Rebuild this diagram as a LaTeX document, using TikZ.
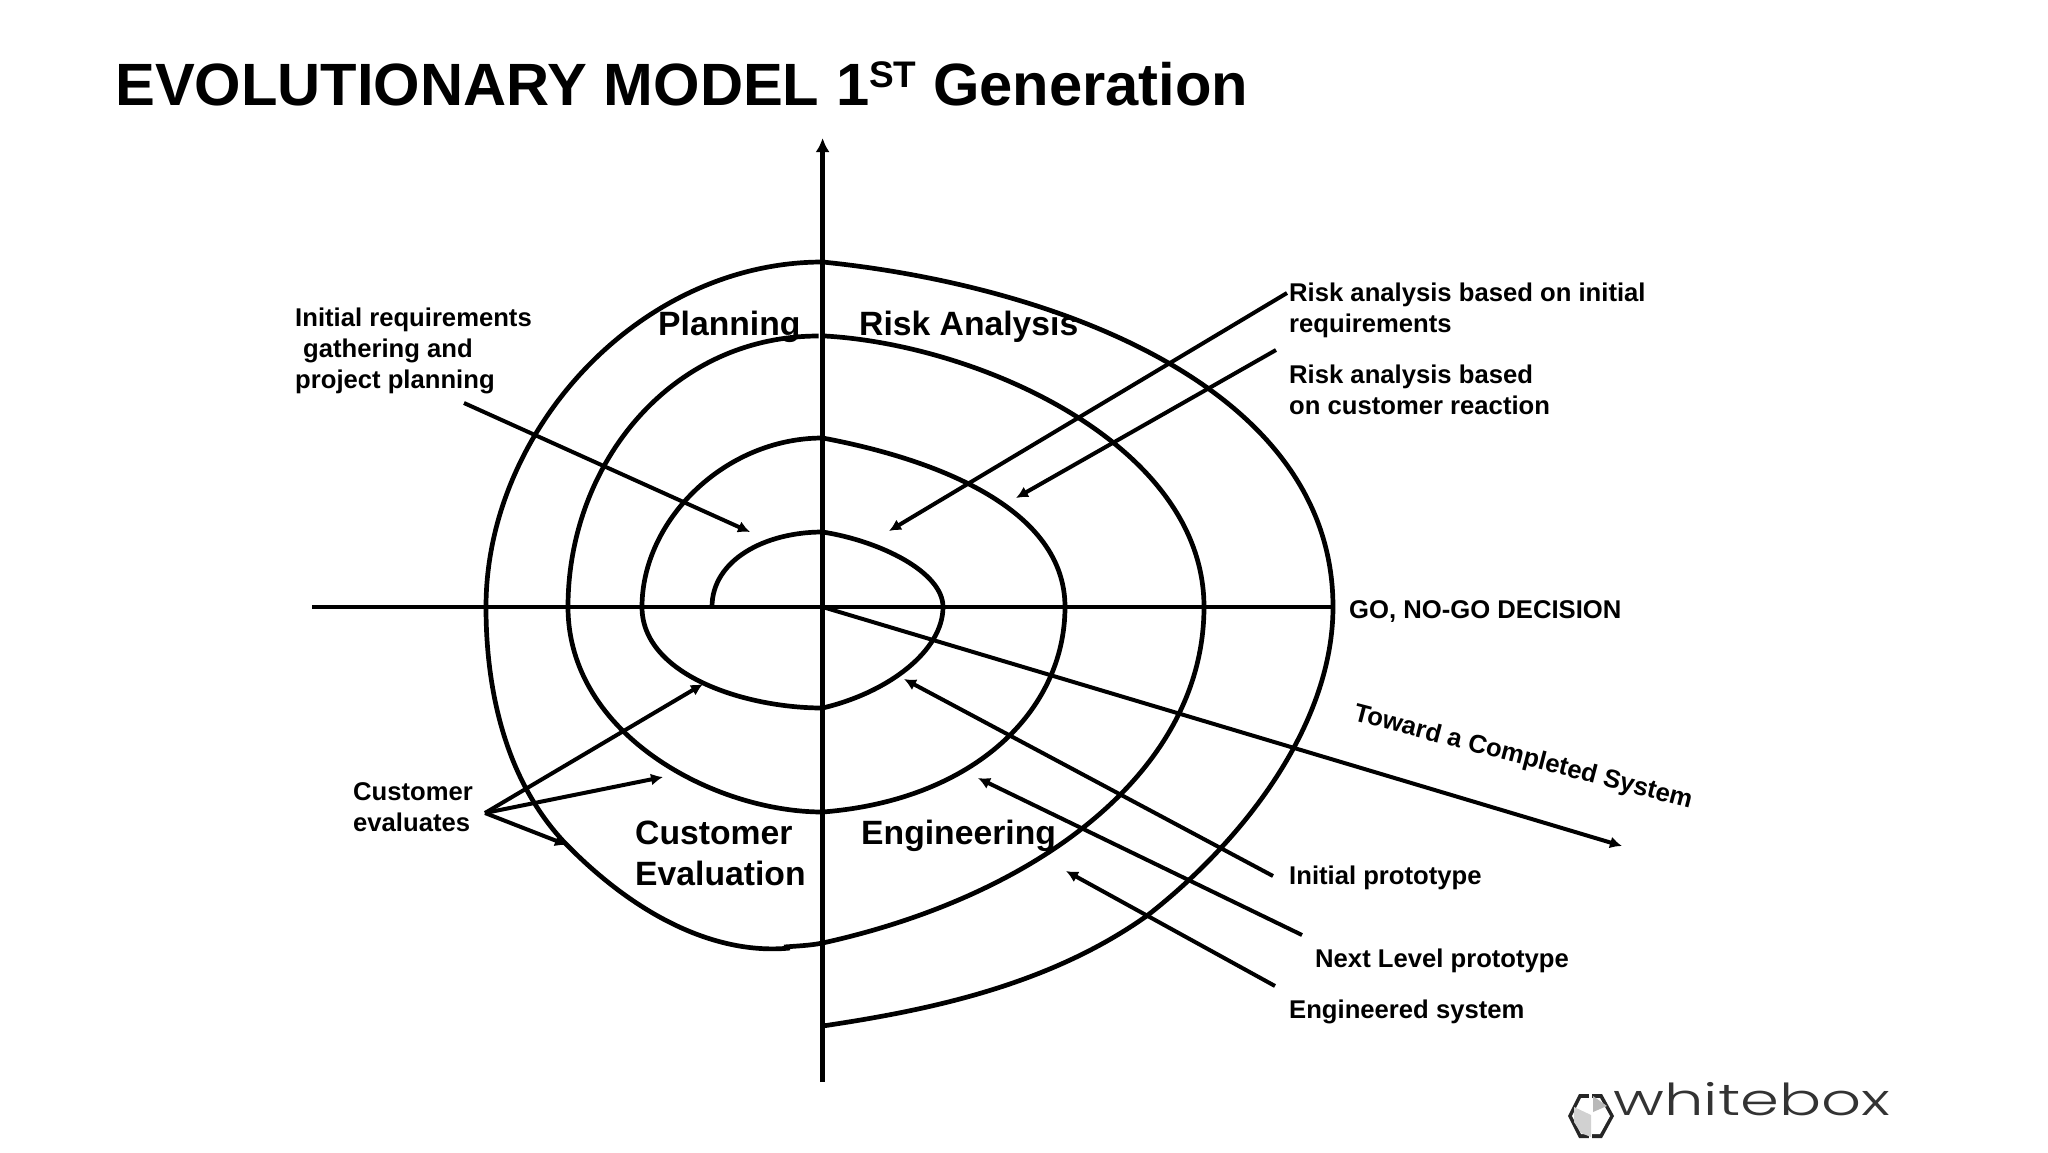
\documentclass[tikz,border=0pt]{standalone}
\usepackage{fontspec}
\setmainfont{Liberation Sans}
\newfontfamily\logofont[UprightFont=* Light]{Poppins}
\usetikzlibrary{arrows.meta}
\newcommand{\fs}[2]{\fontsize{#1}{#2}\selectfont\bfseries}
\tikzset{
  x=1pt,y=-1pt,
  axisline/.style={line width=4.4pt,draw=black},
  spiral/.style={line width=4.7pt,draw=black,line join=round},
  pointer/.style={line width=4pt,draw=black,-{Latex[length=12pt,width=12pt]}},
  small/.style={inner sep=0pt,font=\fs{25.65}{31},align=left},
  quad/.style={inner sep=0pt,font=\fs{33.7}{41},align=left},
}
\begin{document}
\begin{tikzpicture}
\useasboundingbox (0,0) rectangle (2048,1152);
\fill[white] (0,0) rectangle (2048,1152);
\node[inner sep=0pt,anchor=base west,font=\fs{59.7}{70}] (title) at (115,105) {EVOLUTIONARY MODEL 1\raisebox{0.3em}{\fontsize{37}{40}\selectfont ST} Generation};
% axes
\coordinate (vb) at (822.6,1082); \coordinate (vt) at (822.6,138);
\coordinate (hl) at (312,607); \coordinate (hr) at (1335,607);
\coordinate (ctr) at (822.6,607); \coordinate (rad) at (1622,846);
\draw[axisline,-{Latex[length=14pt,width=14pt]}] (vb) -- (vt);
\draw[axisline] (hl) -- (hr);
\draw[pointer] (ctr) -- (rad);
% spiral
\draw[spiral] (712,607) .. controls (712,560) and (765,532) .. (822.6,532)
  .. controls (880,541) and (943,572) .. (943,607)
  .. controls (943,650) and (890,692) .. (822.6,708)
  .. controls (745,708) and (642,675) .. (642,607)
  .. controls (642,520) and (725,438) .. (822.6,438)
  .. controls (940,460) and (1065,510) .. (1065,607)
  .. controls (1065,710) and (975,800) .. (822.6,812)
  .. controls (715,812) and (568,735) .. (568,607)
  .. controls (568,465) and (670,336) .. (818.6,336);
\draw[spiral] (825,336) .. controls (980,345) and (1204,445) .. (1204,607)
  .. controls (1204,770) and (1040,895) .. (822.6,943)
  .. controls (810,945.5) and (797,946) .. (784,947);
\draw[spiral] (790,948) .. controls (720,955) and (640,920) .. (565,843)
  .. controls (510,785) and (486,700) .. (486,607)
  .. controls (486,430) and (640,262) .. (822.6,262)
  .. controls (1050,285) and (1333,385) .. (1333,607)
  .. controls (1333,720) and (1250,835) .. (1148,915)
  .. controls (1050,985) and (930,1010) .. (822.6,1026);
% quadrant labels
\node[quad,anchor=base west] (planning) at (658,335) {Planning};
\node[quad,anchor=base west] (risk) at (859,335) {Risk Analysis};
\node[quad,anchor=base west] (eng) at (861,844) {Engineering};
\node[quad,anchor=north west] (cust) at (635,821) {Customer\\Evaluation};
% side labels
\node[small,anchor=north west] (initreq) at (295,308) {Initial requirements\\\hspace*{8pt}gathering and\\project planning};
\node[small,anchor=north west] (risk1) at (1289,283) {Risk analysis based on initial\\requirements};
\node[small,anchor=north west] (risk2) at (1289,365) {Risk analysis based\\on customer reaction};
\node[small,anchor=north west] (custev) at (353,782) {Customer\\evaluates};
\node[small,anchor=base west] (go) at (1349,618) {GO, NO-GO DECISION};
\node[small,anchor=base west] (ip) at (1289,884) {Initial prototype};
\node[small,anchor=base west] (nl) at (1315,967) {Next Level prototype};
\node[small,anchor=base west] (es) at (1289,1018) {Engineered system};
\node[small,anchor=center,rotate=-14.6] (toward) at (1523,758) {Toward a Completed System};
% pointers
\coordinate (a1s) at (464,403); \coordinate (a1e) at (750,532);
\coordinate (a2s) at (1287,293); \coordinate (a2e) at (889,531);
\coordinate (a3s) at (1276,350); \coordinate (a3e) at (1016,498);
\coordinate (c0) at (485,813);
\coordinate (c1) at (703,684); \coordinate (c2) at (663,777); \coordinate (c3) at (567,845);
\coordinate (p1s) at (1273,876); \coordinate (p1e) at (904,679);
\coordinate (p2s) at (1302,935); \coordinate (p2e) at (978,778);
\coordinate (p3s) at (1275,986); \coordinate (p3e) at (1066,871);
\draw[pointer] (a1s) -- (a1e);
\draw[pointer] (a2s) -- (a2e);
\draw[pointer] (a3s) -- (a3e);
\draw[pointer] (c0) -- (c1);
\draw[pointer] (c0) -- (c2);
\draw[pointer] (c0) -- (c3);
\draw[pointer] (p1s) -- (p1e);
\draw[pointer] (p2s) -- (p2e);
\draw[pointer] (p3s) -- (p3e);
% logo
\fill[black!85] (1568,1116) -- (1579,1094) -- (1602,1094) -- (1614,1116) -- (1602,1138) -- (1579,1138) -- cycle;
\fill[white] (1572,1116) -- (1581,1098) -- (1600,1098) -- (1610,1116) -- (1600,1134) -- (1581,1134) -- cycle;
\fill[white] (1589,1092) rectangle (1592,1100);
\fill[white] (1589,1132) rectangle (1592,1140);
\fill[black!18] (1574,1107) -- (1591,1115) -- (1591,1137) -- (1581,1133) -- (1574,1122) -- cycle;
\fill[black!28] (1593,1096) -- (1607,1106) -- (1593,1112) -- cycle;
\node[inner sep=0pt,anchor=base west,font=\logofont\fontsize{44}{48}\selectfont,text=black!80,xscale=1.42] (logo) at (1613,1115) {whitebox};
\end{tikzpicture}
\end{document}
